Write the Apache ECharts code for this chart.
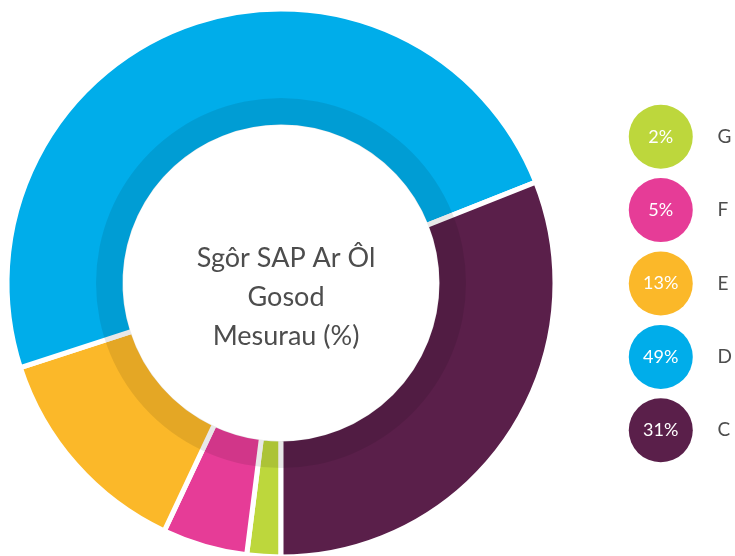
<!DOCTYPE html>
<html>
<head>
<meta charset="utf-8">
<script src="https://cdn.jsdelivr.net/npm/echarts@6/dist/echarts.min.js"></script>
<style>
  html, body { margin: 0; padding: 0; background: #fff; }
  #chart { width: 735px; height: 556px; }
</style>
</head>
<body>
<div id="chart"></div>
<script>
// ratings, in the order they are drawn (clockwise from the bottom)
var bands = ['G', 'F', 'E', 'D', 'C'];
var shares = [2, 5, 13, 49, 31];
var colours = ['#bdd73c', '#e63c97', '#fbb829', '#00adea', '#5a1f4a'];
var centreTitle = 'Sgôr SAP Ar Ôl\nGosod\nMesurau (%)';

var myChart = echarts.init(document.getElementById('chart'));

var pieData = [];
var dotData = [];
bands.forEach(function (b, i) {
    pieData.push({name: b, value: shares[i], itemStyle: {color: colours[i]}});
    dotData.push({value: [0, b], share: shares[i], itemStyle: {color: colours[i], opacity: 1}});
});

var option = {
    animation: false,
    title: {
        text: centreTitle,
        left: 281,
        top: 234,
        textAlign: 'center',
        textStyle: {
            fontFamily: 'Lato',
            fontWeight: 'normal',
            fontSize: 27,
            lineHeight: 39,
            color: '#4d4d4d'
        }
    },
    grid: {left: 630, right: 41, top: 100, bottom: 89},
    xAxis: {type: 'value', min: -1, max: 1, show: false},
    yAxis: {
        type: 'category',
        data: bands,
        inverse: true,
        position: 'right',
        axisLine: {show: false},
        axisTick: {show: false},
        splitLine: {show: false},
        axisLabel: {margin: 26, fontSize: 19, color: '#4d4d4d', fontFamily: 'Lato'}
    },
    series: [
        {
            type: 'pie',
            center: [281, 283],
            radius: [156, 274],
            startAngle: -90,
            clockwise: true,
            silent: true,
            label: {show: false},
            labelLine: {show: false},
            itemStyle: {borderColor: '#ffffff', borderWidth: 5},
            data: pieData
        },
        {
            // darker inner band laid over the ring
            type: 'pie',
            center: [281, 283],
            radius: [158, 185],
            silent: true,
            label: {show: false},
            labelLine: {show: false},
            itemStyle: {color: 'rgba(0,0,0,0.09)'},
            data: [{value: 1}]
        },
        {
            type: 'scatter',
            symbol: 'circle',
            symbolSize: 64,
            silent: true,
            label: {
                show: true,
                position: 'inside',
                color: '#ffffff',
                fontSize: 18,
                fontFamily: 'Lato',
                formatter: function (p) { return p.data.share + '%'; }
            },
            data: dotData
        }
    ]
};

myChart.setOption(option);
</script>
</body>
</html>
